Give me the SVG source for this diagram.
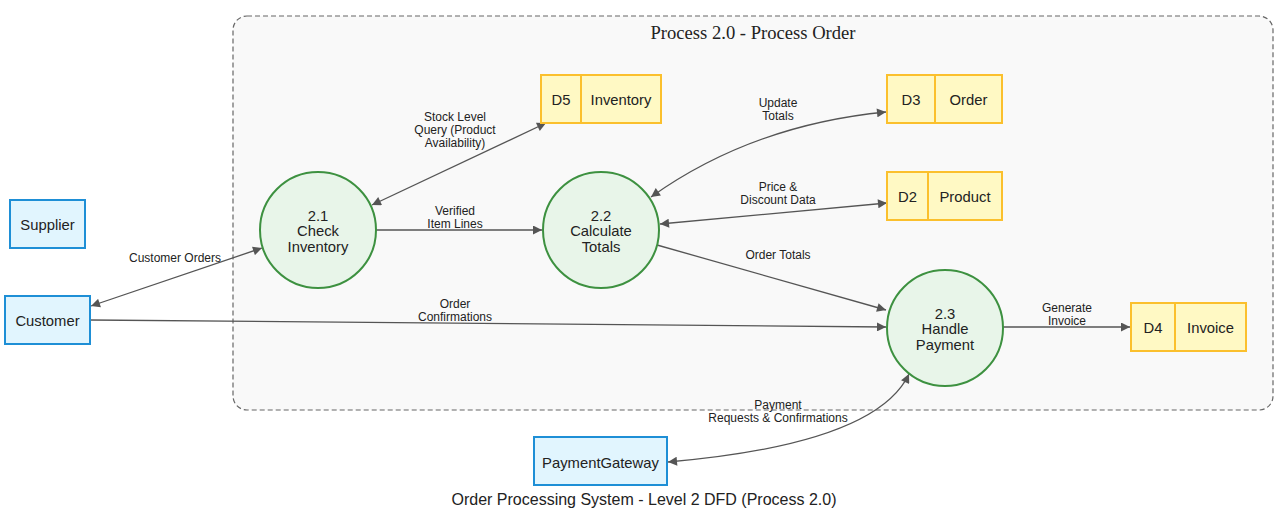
<svg xmlns="http://www.w3.org/2000/svg" width="1288" height="519" viewBox="0 0 1288 519">
<style>
.ext rect{fill:#e1f5fe;stroke:#1e8fd6;stroke-width:2}
.proc circle{fill:#e8f5e9;stroke:#3d9140;stroke-width:2}
.store rect{fill:#fff9c4;stroke:#fbc02d;stroke-width:2}
.store line{stroke:#fbc02d;stroke-width:2}
.nt{font-family:"Liberation Sans",Arial,sans-serif;font-size:14.8px;fill:#222;text-anchor:middle}
.lbl{font-family:"Liberation Sans",Arial,sans-serif;font-size:12px;fill:#222;text-anchor:middle}
#edges path{fill:none;stroke:#555;stroke-width:1.3}
</style>
<defs>
<marker id="ah" viewBox="0 0 10 10" refX="10" refY="5" markerUnits="userSpaceOnUse" markerWidth="11" markerHeight="9" orient="auto-start-reverse">
<path d="M0,0 L10,5 L0,10 z" fill="#555"/>
</marker>
</defs>
<rect x="0" y="0" width="1288" height="519" fill="#ffffff"/>
<g id="cluster">
<rect x="233" y="16" width="1040" height="394" rx="14" fill="#f9f9f9" stroke="#666" stroke-width="1.2" stroke-dasharray="5,3"/>
<text x="753" y="39" text-anchor="middle" font-family="'Liberation Serif','Times New Roman',serif" font-size="18.6" fill="#222">Process 2.0 - Process Order</text>
</g>
<g id="edges">
<path d="M262,248 L91,306" marker-start="url(#ah)" marker-end="url(#ah)"/>
<path d="M90,320 L886,327" marker-end="url(#ah)"/>
<path d="M372,205 L546,123" marker-start="url(#ah)" marker-end="url(#ah)"/>
<path d="M376,230 L542,230" marker-end="url(#ah)"/>
<path d="M651,197 Q752,125 886,112" marker-start="url(#ah)" marker-end="url(#ah)"/>
<path d="M660,224 L887,203" marker-start="url(#ah)" marker-end="url(#ah)"/>
<path d="M657,245 L886,310" marker-end="url(#ah)"/>
<path d="M1003,327 L1130,327" marker-end="url(#ah)"/>
<path d="M909,374 Q876,444 668,462" marker-start="url(#ah)" marker-end="url(#ah)"/>
<text class="lbl" x="175" y="262">Customer Orders</text>
<text class="lbl" x="455" y="308">Order</text>
<text class="lbl" x="455" y="321">Confirmations</text>
<text class="lbl" x="455" y="121">Stock Level</text>
<text class="lbl" x="455" y="134">Query (Product</text>
<text class="lbl" x="455" y="147">Availability)</text>
<text class="lbl" x="455" y="215">Verified</text>
<text class="lbl" x="455" y="228">Item Lines</text>
<text class="lbl" x="778" y="107">Update</text>
<text class="lbl" x="778" y="120">Totals</text>
<text class="lbl" x="778" y="191">Price &amp;</text>
<text class="lbl" x="778" y="204">Discount Data</text>
<text class="lbl" x="778" y="259">Order Totals</text>
<text class="lbl" x="1067" y="312">Generate</text>
<text class="lbl" x="1067" y="325">Invoice</text>
<text class="lbl" x="778" y="409">Payment</text>
<text class="lbl" x="778" y="422">Requests &amp; Confirmations</text>
</g>
<g id="supplier" class="ext"><rect x="10" y="200" width="75" height="48"/><text class="nt" x="47.5" y="230">Supplier</text></g>
<g id="customer" class="ext"><rect x="5" y="296" width="85" height="48"/><text class="nt" x="47.5" y="326">Customer</text></g>
<g id="paymentgateway" class="ext"><rect x="534" y="437" width="133" height="48"/><text class="nt" x="600.5" y="468">PaymentGateway</text></g>
<g id="p21" class="proc"><circle cx="318" cy="230" r="58"/><text class="nt" x="318" y="221">2.1</text><text class="nt" x="318" y="236">Check</text><text class="nt" x="318" y="252">Inventory</text></g>
<g id="p22" class="proc"><circle cx="601" cy="230" r="58"/><text class="nt" x="601" y="221">2.2</text><text class="nt" x="601" y="236">Calculate</text><text class="nt" x="601" y="252">Totals</text></g>
<g id="p23" class="proc"><circle cx="945" cy="328" r="58"/><text class="nt" x="945" y="319">2.3</text><text class="nt" x="945" y="334">Handle</text><text class="nt" x="945" y="350">Payment</text></g>
<g id="d5" class="store"><rect x="541" y="75" width="120" height="48"/><line x1="581" y1="75" x2="581" y2="123"/><text class="nt" x="561" y="105">D5</text><text class="nt" x="621" y="105">Inventory</text></g>
<g id="d3" class="store"><rect x="887" y="75" width="115" height="48"/><line x1="935" y1="75" x2="935" y2="123"/><text class="nt" x="911" y="105">D3</text><text class="nt" x="968.5" y="105">Order</text></g>
<g id="d2" class="store"><rect x="887" y="172" width="115" height="48"/><line x1="928" y1="172" x2="928" y2="220"/><text class="nt" x="907.5" y="202">D2</text><text class="nt" x="965" y="202">Product</text></g>
<g id="d4" class="store"><rect x="1131" y="303" width="115" height="48"/><line x1="1175" y1="303" x2="1175" y2="351"/><text class="nt" x="1153" y="333">D4</text><text class="nt" x="1210.5" y="333">Invoice</text></g>
<text x="644" y="505" text-anchor="middle" font-family="'Liberation Sans',Arial,sans-serif" font-size="16" fill="#222">Order Processing System - Level 2 DFD (Process 2.0)</text>
</svg>
